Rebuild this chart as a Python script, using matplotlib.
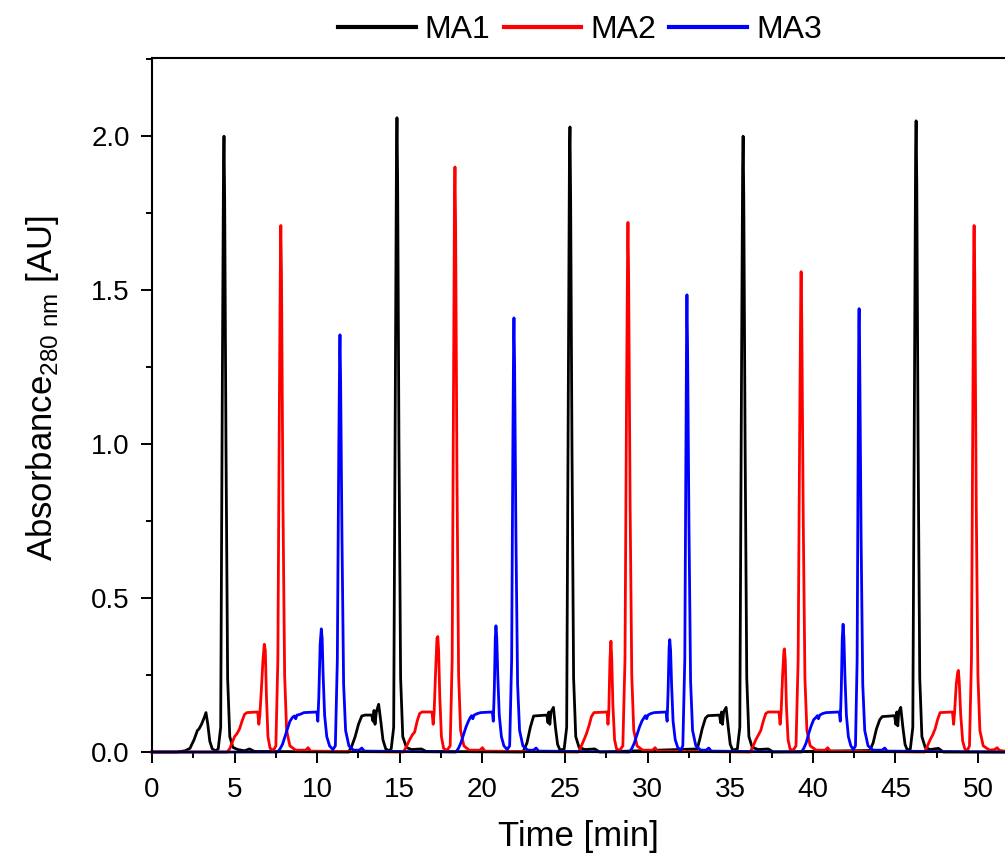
import matplotlib
matplotlib.use('Agg')
import matplotlib.pyplot as plt
from matplotlib.ticker import MultipleLocator

plt.rcParams['font.family'] = ['Liberation Sans', 'DejaVu Sans']
plt.rcParams['mathtext.fontset'] = 'custom'
plt.rcParams['mathtext.rm'] = 'Liberation Sans'

# chromatogram traces: time [min] / absorbance [AU]
ma1_time = [0.0, 1.5, 2.0, 2.3, 2.55, 2.75, 2.85, 3.0, 3.15, 3.27, 3.38, 3.5, 3.65, 3.85,
            4.01, 4.16, 4.26, 4.33, 4.36, 4.40, 4.48, 4.58, 4.71, 4.9, 5.2, 5.6, 5.9, 6.2,
            11.9, 12.1, 12.3, 12.5, 12.7, 12.9, 13.3, 13.38, 13.44, 13.5, 13.58, 13.72, 13.85,
            13.98, 14.15, 14.35, 14.48, 14.63, 14.73, 14.8, 14.83, 14.87, 14.95, 15.05, 15.18,
            15.4, 15.7, 16.3, 16.6,
            22.4, 22.5, 22.7, 22.9, 23.1, 23.9, 23.97, 24.02, 24.08, 24.15, 24.3, 24.42, 24.55,
            24.7, 24.95, 25.1, 25.2, 25.27, 25.3, 25.34, 25.42, 25.52, 25.65, 25.85, 26.2, 26.8,
            27.1,
            33.0, 33.15, 33.3, 33.5, 33.65, 34.35, 34.42, 34.47, 34.53, 34.6, 34.75, 34.88, 35.0,
            35.15, 35.43, 35.58, 35.68, 35.75, 35.78, 35.82, 35.9, 36.0, 36.13, 36.33, 36.7,
            37.3, 37.6,
            43.45, 43.65, 43.85, 44.05, 44.2, 44.95, 45.02, 45.08, 45.14, 45.2, 45.32, 45.45,
            45.58, 45.72, 45.9, 46.05, 46.15, 46.22, 46.25, 46.29, 46.37, 46.47, 46.6, 46.8,
            47.1, 47.6, 47.9, 51.6]
ma1_abs = [0.0, 0.0, 0.004, 0.012, 0.04, 0.07, 0.075, 0.09, 0.11, 0.128, 0.09, 0.035, 0.01, 0.004,
           0.01, 0.08, 1.2, 1.9, 2.0, 1.8, 1.0, 0.24, 0.05, 0.015, 0.008, 0.004, 0.01, 0.002,
           0.0, 0.02, 0.05, 0.09, 0.117, 0.12, 0.12, 0.1, 0.135, 0.09, 0.13, 0.155, 0.1,
           0.04, 0.01, 0.004, 0.01, 0.08, 1.2, 1.95, 2.06, 1.85, 1.0, 0.24, 0.05,
           0.015, 0.008, 0.01, 0.002,
           0.0, 0.005, 0.03, 0.08, 0.117, 0.12, 0.095, 0.13, 0.09, 0.13, 0.145, 0.08, 0.025,
           0.006, 0.01, 0.08, 1.2, 1.95, 2.03, 1.8, 1.0, 0.24, 0.05, 0.015, 0.008, 0.01,
           0.0,
           0.01, 0.04, 0.075, 0.11, 0.118, 0.12, 0.095, 0.13, 0.09, 0.13, 0.145, 0.08, 0.025,
           0.006, 0.01, 0.08, 1.2, 1.9, 2.0, 1.8, 1.0, 0.24, 0.05, 0.015, 0.008,
           0.01, 0.0,
           0.005, 0.03, 0.075, 0.105, 0.115, 0.118, 0.09, 0.13, 0.085, 0.13, 0.145, 0.08,
           0.025, 0.006, 0.01, 0.08, 1.2, 1.95, 2.05, 1.85, 1.0, 0.24, 0.05, 0.015,
           0.008, 0.012, 0.0, 0.0]

ma2_time = [0.0, 4.55, 4.7, 4.85, 5.0, 5.15, 5.3, 5.45, 5.6, 5.75, 6.4, 6.47, 6.53, 6.62, 6.72,
            6.8, 6.86, 6.93, 7.02, 7.15, 7.35, 7.5, 7.62, 7.72, 7.78, 7.8, 7.84, 7.93, 8.03,
            8.15, 8.35, 8.7, 9.3, 9.45, 9.6,
            15.2, 15.35, 15.55, 15.75, 15.9, 16.05, 16.2, 16.35, 16.95, 17.02, 17.08, 17.16,
            17.25, 17.3, 17.35, 17.42, 17.52, 17.65, 17.85, 18.05, 18.17, 18.26, 18.31, 18.34,
            18.38, 18.46, 18.56, 18.68, 18.88, 19.2, 19.85, 20.0, 20.15,
            25.8, 25.95, 26.15, 26.3, 26.45, 26.6, 26.75, 27.55, 27.6, 27.65, 27.72, 27.78,
            27.83, 27.9, 28.0, 28.12, 28.3, 28.5, 28.63, 28.73, 28.79, 28.81, 28.85, 28.94,
            29.04, 29.16, 29.36, 29.7, 30.3, 30.45, 30.6,
            36.2, 36.35, 36.55, 36.7, 36.85, 37.0, 37.15, 37.3, 37.95, 38.02, 38.08, 38.17,
            38.25, 38.28, 38.33, 38.4, 38.5, 38.62, 38.8, 38.98, 39.11, 39.21, 39.27, 39.29,
            39.33, 39.42, 39.52, 39.64, 39.84, 40.2, 40.75, 40.9, 41.05,
            46.75, 46.9, 47.1, 47.25, 47.4, 47.55, 47.7, 48.45, 48.52, 48.58, 48.68, 48.77,
            48.81, 48.86, 48.95, 49.07, 49.2, 49.35, 49.48, 49.6, 49.69, 49.74, 49.76, 49.8,
            49.89, 49.99, 50.11, 50.31, 50.7, 51.0, 51.15, 51.3, 51.6]
ma2_abs = [0.0, 0.0, 0.01, 0.03, 0.05, 0.06, 0.075, 0.1, 0.122, 0.128, 0.13, 0.09, 0.12, 0.2, 0.3,
           0.35, 0.33, 0.18, 0.05, 0.012, 0.005, 0.02, 0.3, 1.2, 1.65, 1.71, 1.55, 0.8, 0.25,
           0.07, 0.02, 0.006, 0.006, 0.014, 0.003,
           0.0, 0.012, 0.035, 0.055, 0.065, 0.1, 0.125, 0.13, 0.13, 0.09, 0.13, 0.25,
           0.37, 0.375, 0.33, 0.18, 0.05, 0.012, 0.005, 0.02, 0.3, 1.3, 1.8, 1.9,
           1.7, 0.9, 0.25, 0.07, 0.02, 0.006, 0.006, 0.014, 0.003,
           0.0, 0.015, 0.04, 0.06, 0.085, 0.115, 0.128, 0.13, 0.09, 0.13, 0.3, 0.36,
           0.3, 0.15, 0.04, 0.01, 0.005, 0.02, 0.3, 1.2, 1.65, 1.72, 1.55, 0.8,
           0.25, 0.07, 0.02, 0.006, 0.006, 0.014, 0.003,
           0.0, 0.015, 0.04, 0.055, 0.07, 0.1, 0.125, 0.13, 0.13, 0.09, 0.13, 0.25,
           0.33, 0.335, 0.3, 0.15, 0.04, 0.01, 0.005, 0.02, 0.3, 1.1, 1.5, 1.56,
           1.4, 0.75, 0.24, 0.07, 0.02, 0.006, 0.006, 0.014, 0.003,
           0.0, 0.015, 0.04, 0.055, 0.075, 0.105, 0.128, 0.13, 0.09, 0.13, 0.22, 0.26,
           0.265, 0.23, 0.12, 0.035, 0.01, 0.005, 0.02, 0.3, 1.2, 1.65, 1.71, 1.55,
           0.8, 0.25, 0.07, 0.02, 0.006, 0.008, 0.014, 0.005, 0.003]

ma3_time = [0.0, 7.6, 7.75, 7.9, 8.05, 8.2, 8.35, 8.5, 8.62, 8.7, 8.78, 8.95, 9.2, 9.98, 10.04,
            10.1, 10.18, 10.25, 10.3, 10.36, 10.45, 10.58, 10.75, 10.95, 11.1, 11.22, 11.31,
            11.36, 11.38, 11.42, 11.5, 11.6, 11.72, 11.92, 12.2, 12.55, 12.7, 12.85,
            18.4, 18.55, 18.7, 18.85, 19.0, 19.15, 19.28, 19.35, 19.42, 19.5, 19.7, 19.9, 20.6,
            20.66, 20.72, 20.78, 20.82, 20.87, 20.93, 21.02, 21.15, 21.3, 21.5, 21.65, 21.77,
            21.85, 21.89, 21.91, 21.95, 22.03, 22.13, 22.25, 22.45, 22.75, 23.1, 23.25, 23.4,
            28.9, 29.05, 29.2, 29.35, 29.5, 29.65, 29.8, 29.87, 29.94, 30.02, 30.2, 30.4, 31.12,
            31.18, 31.24, 31.3, 31.34, 31.39, 31.45, 31.54, 31.67, 31.82, 32.0, 32.13, 32.25,
            32.33, 32.36, 32.38, 32.42, 32.5, 32.6, 32.72, 32.92, 33.22, 33.55, 33.7, 33.85,
            39.3, 39.45, 39.6, 39.75, 39.9, 40.05, 40.2, 40.27, 40.34, 40.42, 40.6, 40.8, 41.6,
            41.66, 41.72, 41.78, 41.83, 41.88, 41.94, 42.03, 42.15, 42.3, 42.45, 42.58, 42.68,
            42.75, 42.78, 42.8, 42.84, 42.92, 43.02, 43.14, 43.34, 43.64, 44.2, 44.35, 44.5,
            51.6]
ma3_abs = [0.0, 0.0, 0.01, 0.025, 0.05, 0.075, 0.1, 0.112, 0.117, 0.108, 0.12, 0.122, 0.128, 0.13, 0.1,
           0.18, 0.35, 0.40, 0.37, 0.25, 0.12, 0.05, 0.02, 0.008, 0.02, 0.3, 1.0,
           1.3, 1.355, 1.2, 0.7, 0.22, 0.07, 0.02, 0.006, 0.006, 0.013, 0.003,
           0.0, 0.012, 0.03, 0.055, 0.08, 0.1, 0.113, 0.118, 0.108, 0.12, 0.125, 0.128, 0.13,
           0.1, 0.2, 0.37, 0.41, 0.37, 0.25, 0.12, 0.05, 0.02, 0.008, 0.02, 0.3,
           1.05, 1.35, 1.41, 1.25, 0.7, 0.22, 0.07, 0.02, 0.006, 0.006, 0.013, 0.003,
           0.0, 0.012, 0.03, 0.055, 0.08, 0.1, 0.113, 0.118, 0.108, 0.12, 0.125, 0.128, 0.13,
           0.1, 0.2, 0.34, 0.365, 0.33, 0.22, 0.1, 0.04, 0.015, 0.006, 0.02, 0.3,
           1.1, 1.4, 1.485, 1.3, 0.75, 0.23, 0.07, 0.02, 0.006, 0.006, 0.013, 0.003,
           0.0, 0.012, 0.03, 0.06, 0.085, 0.105, 0.113, 0.118, 0.108, 0.12, 0.125, 0.128, 0.13,
           0.1, 0.2, 0.37, 0.415, 0.37, 0.25, 0.12, 0.05, 0.02, 0.008, 0.02, 0.3,
           1.05, 1.38, 1.44, 1.25, 0.7, 0.22, 0.07, 0.02, 0.006, 0.006, 0.013, 0.003,
           0.0]

series_labels = ['MA1', 'MA2', 'MA3']
series_colors = ['black', '#ff0000', '#0000ff']

fig = plt.figure(figsize=(10.05, 8.57), dpi=100)
ax = fig.add_axes([0.1512, 0.1225, 0.8488, 0.8098])

for t, a, lab, col in zip([ma1_time, ma2_time, ma3_time], [ma1_abs, ma2_abs, ma3_abs],
                          series_labels, series_colors):
    ax.plot(t, a, color=col, lw=2.0, label=lab, clip_on=False)

ax.set_xlim(0, 51.63)
ax.set_ylim(0, 2.254)
ax.xaxis.set_major_locator(MultipleLocator(5))
ax.xaxis.set_minor_locator(MultipleLocator(2.5))
ax.yaxis.set_major_locator(MultipleLocator(0.5))
ax.yaxis.set_minor_locator(MultipleLocator(0.25))
ax.yaxis.set_major_formatter(plt.FuncFormatter(lambda v, p: f'{v:.1f}'))
ax.tick_params(which='major', direction='out', length=8, width=1.4, labelsize=20)
ax.tick_params(which='minor', direction='out', length=4, width=1.4)
ax.tick_params(axis='x', which='major', pad=10)
ax.tick_params(axis='y', which='major', pad=8)
ax.tick_params(top=False, right=False)
for s in ['left', 'bottom', 'top']:
    ax.spines[s].set_linewidth(1.5)
ax.spines['right'].set_visible(False)

ax.set_xlabel('Time [min]', fontsize=25)
ax.xaxis.set_label_coords(0.5, -0.098)
ax.set_ylabel(r'Absorbance$_{\mathregular{280\ nm}}$ [AU]', fontsize=25)
ax.yaxis.set_label_coords(-0.107, 0.525)

leg = fig.legend(loc='center', bbox_to_anchor=(0.577, 0.965), ncol=3, frameon=False,
                 fontsize=23, handlelength=2.44, handletextpad=0.28, columnspacing=0.41,
                 borderpad=0)
for h in leg.get_lines():
    h.set_linewidth(3)

fig.savefig('out.png', dpi=100)
